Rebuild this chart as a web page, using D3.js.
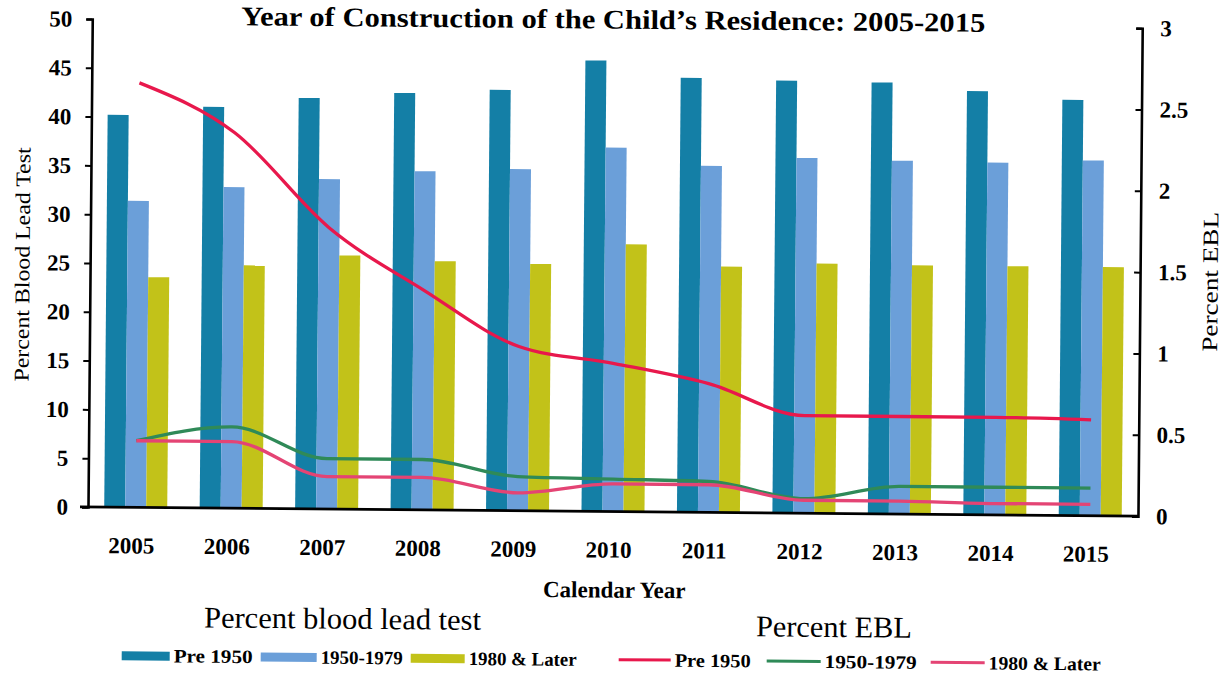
<!DOCTYPE html>
<html><head><meta charset="utf-8">
<script src="https://cdn.jsdelivr.net/npm/d3@7"></script>
<style>
body{margin:0;background:#fff;}
svg{display:block;font-family:"Liberation Serif","Times New Roman",serif;}
</style>
</head><body>
<svg id="chart" width="1228" height="673"></svg>
<script>
// ---------- data ----------
const years = ["2005","2006","2007","2008","2009","2010","2011","2012","2013","2014","2015"];
const testPre1950   = [40.2, 41.1, 42.1, 42.7, 43.1, 46.2, 44.5, 44.3, 44.2, 43.4, 42.6];
const test1950_1979 = [31.4, 32.9, 33.8, 34.7, 35.0, 37.3, 35.5, 36.4, 36.2, 36.1, 36.4];
const test1980Later = [23.6, 24.9, 26.0, 25.5, 25.3, 27.4, 25.2, 25.6, 25.5, 25.5, 25.5];
const eblPre1950    = [2.61, 2.31, 1.73, 1.35, 1.01, 0.91, 0.79, 0.60, 0.60, 0.60, 0.59];
const ebl1950_1979  = [0.41, 0.50, 0.31, 0.31, 0.21, 0.20, 0.19, 0.09, 0.17, 0.17, 0.17];
const ebl1980Later  = [0.41, 0.41, 0.20, 0.20, 0.11, 0.17, 0.17, 0.08, 0.08, 0.07, 0.07];
const leftTicks  = [0, 5, 10, 15, 20, 25, 30, 35, 40, 45, 50];
const rightTicks = [0, 0.5, 1, 1.5, 2, 2.5, 3];
const barSeriesNames  = ["Pre 1950", "1950-1979", "1980 & Later"];
const lineSeriesNames = ["Pre 1950", "1950-1979", "1980 & Later"];
const titleText = "Year of Construction of the Child\u2019s Residence: 2005-2015";

// ---------- styles ----------
const barColors  = ["#147fa6", "#6b9fd9", "#c2c219"];
const lineColors = ["#e8184c", "#2f8a58", "#e44474"];

const L = 88, R = 1138, T = 19, B = 507;
const svg = d3.select("#chart");
const g = svg.append("g").attr("transform", `rotate(0.5, ${L}, ${B})`);

const x0 = d3.scaleBand().domain(years).range([L, R]).paddingInner(0.34).paddingOuter(0.17);
const x1 = d3.scaleBand().domain([0,1,2]).range([0, x0.bandwidth()]);
const yL = d3.scaleLinear().domain([0, 50]).range([B, T]);
const yR = d3.scaleLinear().domain([0, 3]).range([B, T]);

// bars
const barData = [testPre1950, test1950_1979, test1980Later];
const groups = g.selectAll("g.grp").data(years).join("g")
  .attr("class","grp").attr("transform", d => `translate(${x0(d)},0)`);
groups.selectAll("rect").data((d,i) => barData.map((s,k) => ({k, v: s[i]}))).join("rect")
  .attr("x", d => x1(d.k)).attr("width", x1.bandwidth())
  .attr("y", d => yL(d.v)).attr("height", d => B - yL(d.v))
  .attr("fill", d => barColors[d.k]);

// lines
const lineData = [eblPre1950, ebl1950_1979, ebl1980Later];
const line = d3.line()
  .x((d,i) => x0(years[i]) + x0.bandwidth()/2)
  .y(d => yR(d))
  .curve(d3.curveMonotoneX);
[1,2,0].forEach(k => {
  g.append("path").attr("d", line(lineData[k])).attr("fill","none")
    .attr("stroke", lineColors[k]).attr("stroke-width", 3.3).attr("stroke-linejoin","round");
});

// left axis
const axL = g.append("g").attr("transform", `translate(${L},0)`)
  .call(d3.axisLeft(yL).tickValues(leftTicks).tickSize(6).tickPadding(14).tickFormat(d3.format("d")));
axL.select(".domain").attr("stroke","#000").attr("stroke-width",2.6);
axL.selectAll(".tick line").attr("stroke","#000").attr("stroke-width",2);
axL.selectAll("text").attr("font-size",23).attr("font-weight","bold").attr("fill","#000")
  .attr("font-family","Liberation Serif");

// right axis (ticks point inward)
const axR = g.append("g").attr("transform", `translate(${R},0)`)
  .call(d3.axisLeft(yR).tickValues(rightTicks).tickSize(6).tickFormat(d => String(d)));
axR.select(".domain").attr("stroke","#000").attr("stroke-width",2.6);
axR.selectAll(".tick line").attr("stroke","#000").attr("stroke-width",2);
axR.selectAll("text").attr("x", 18).attr("text-anchor","start")
  .attr("font-size",23).attr("font-weight","bold").attr("fill","#000")
  .attr("font-family","Liberation Serif");

// x axis
const axB = g.append("g").attr("transform", `translate(0,${B})`)
  .call(d3.axisBottom(x0).tickSize(0).tickPadding(0));
axB.select(".domain").remove();
axB.append("line").attr("x1", 80).attr("x2", R).attr("y1",0).attr("y2",0)
  .attr("stroke","#000").attr("stroke-width",2.8);
axB.selectAll(".tick text").attr("y", 38).attr("dy","0.35em").attr("dx",-4)
  .attr("font-size",23).attr("font-weight","bold").attr("fill","#000")
  .attr("font-family","Liberation Serif");

// title
g.append("text").attr("x", 609).attr("y", 24).attr("text-anchor","middle")
  .attr("font-size",27).attr("font-weight","bold").attr("textLength",744).attr("lengthAdjust","spacingAndGlyphs")
  .text(titleText);

// axis titles
g.append("text").attr("x", 615).attr("y", 585).attr("dy","0.35em").attr("text-anchor","middle")
  .attr("font-size",23).attr("font-weight","bold").text("Calendar Year");
g.append("text").attr("transform","translate(20,265) rotate(-90)").attr("dy","0.35em")
  .attr("text-anchor","middle").attr("font-size",21).attr("textLength",234).attr("lengthAdjust","spacingAndGlyphs")
  .text("Percent Blood Lead Test");
g.append("text").attr("transform","translate(1208,272) rotate(-90)").attr("dy","0.35em")
  .attr("text-anchor","middle").attr("font-size",22).attr("textLength",140).attr("lengthAdjust","spacingAndGlyphs")
  .text("Percent EBL");

// legend headings
g.append("text").attr("x", 205).attr("y", 616).attr("dy","0.35em")
  .attr("font-size",30).attr("textLength",277).attr("lengthAdjust","spacingAndGlyphs")
  .text("Percent blood lead test");
g.append("text").attr("x", 757).attr("y", 620).attr("dy","0.35em")
  .attr("font-size",30).attr("textLength",156).attr("lengthAdjust","spacingAndGlyphs")
  .text("Percent EBL");

// legend items
const legY = 655;
const barLeg = [{sx:123, sw:48, tx:175, tw:79}, {sx:262, sw:56, tx:322, tw:82}, {sx:412, sw:54, tx:470, tw:108}];
barLeg.forEach((p,k) => {
  g.append("rect").attr("x",p.sx).attr("y",legY-4).attr("width",p.sw).attr("height",9).attr("fill",barColors[k]);
  g.append("text").attr("x",p.tx).attr("y",legY).attr("dy","0.35em").attr("font-size",19).attr("font-weight","bold")
    .attr("textLength",p.tw).attr("lengthAdjust","spacingAndGlyphs").text(barSeriesNames[k]);
});
const lineLeg = [{sx:620, sw:52, tx:676, tw:76}, {sx:768, sw:54, tx:826, tw:92}, {sx:932, sw:54, tx:990, tw:112}];
lineLeg.forEach((p,k) => {
  g.append("line").attr("x1",p.sx).attr("x2",p.sx+p.sw).attr("y1",legY).attr("y2",legY)
    .attr("stroke",lineColors[k]).attr("stroke-width",3);
  g.append("text").attr("x",p.tx).attr("y",legY).attr("dy","0.35em").attr("font-size",19).attr("font-weight","bold")
    .attr("textLength",p.tw).attr("lengthAdjust","spacingAndGlyphs").text(lineSeriesNames[k]);
});
</script>
</body></html>
